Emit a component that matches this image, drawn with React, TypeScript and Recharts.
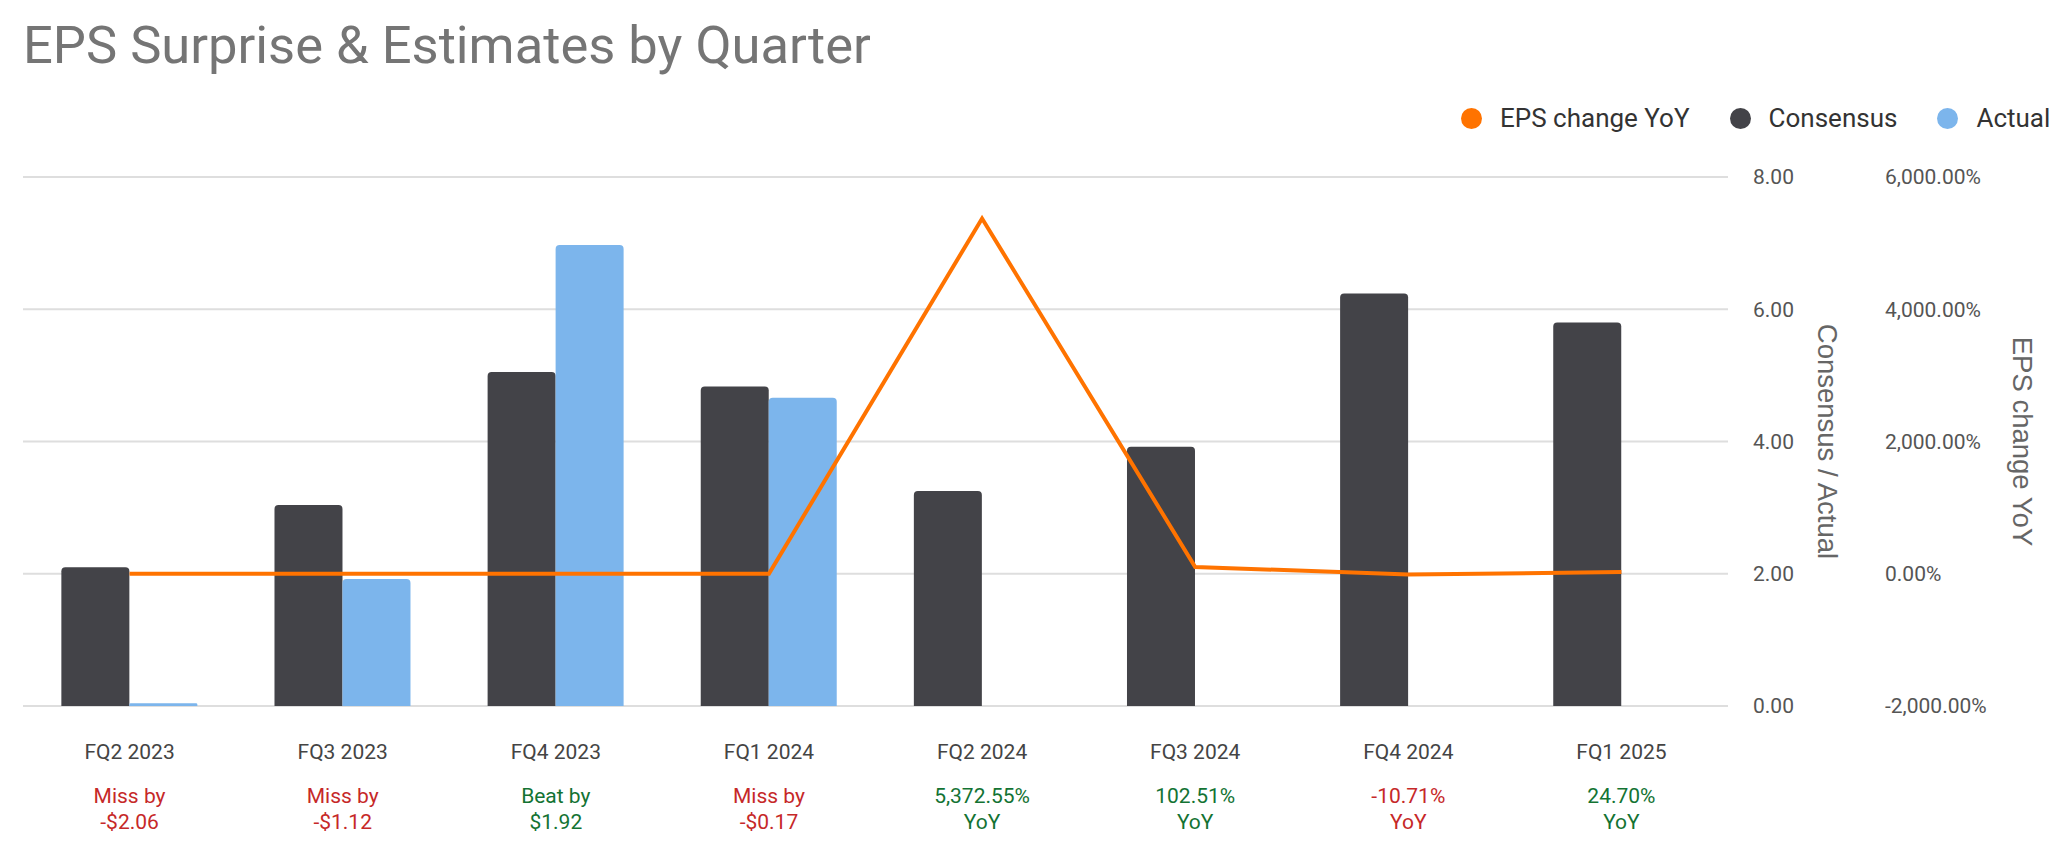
import React from "react"
import { ComposedChart, Bar, Line, XAxis, YAxis, CartesianGrid } from "recharts"

const quarters = ["FQ2 2023", "FQ3 2023", "FQ4 2023", "FQ1 2024", "FQ2 2024", "FQ3 2024", "FQ4 2024", "FQ1 2025"]
const consensus = [2.1, 3.04, 5.05, 4.83, 3.25, 3.92, 6.24, 5.8]
const actual = [0.04, 1.92, 6.97, 4.66, null, null, null, null]
const epsChangeYoY = [0, 0, 0, 0, 5372.55, 102.51, -10.71, 24.7]
const surpriseTop = ["Miss by", "Miss by", "Beat by", "Miss by", "5,372.55%", "102.51%", "-10.71%", "24.70%"]
const surpriseBottom = ["-$2.06", "-$1.12", "$1.92", "-$0.17", "YoY", "YoY", "YoY", "YoY"]
const surpriseGood = [false, false, true, false, true, true, false, true]

const epsTicks = [0, 2, 4, 6, 8]
const yoyTicks = [-2000, 0, 2000, 4000, 6000]

const data = quarters.map((q, i) => ({
  quarter: q,
  consensus: consensus[i],
  actual: actual[i],
  yoy: epsChangeYoY[i],
}))

const ORANGE = "#ff7300"
const DARK = "#434348"
const BLUE = "#7cb5ec"
const RED = "#c62828"
const GREEN = "#137333"
const ROBOTO = "Roboto, sans-serif"

const legendItems = [
  { name: "EPS change YoY", color: ORANGE },
  { name: "Consensus", color: DARK },
  { name: "Actual", color: BLUE },
]

function QuarterTick(props: any) {
  const { x, y, payload, index } = props
  const color = surpriseGood[index] ? GREEN : RED
  return (
    <g fontFamily={ROBOTO} fontSize={21} textAnchor="middle">
      <text x={x} y={y + 52.7} fill="#444">{payload.value}</text>
      <text x={x} y={y + 97.2} fill={color}>{surpriseTop[index]}</text>
      <text x={x} y={y + 123.2} fill={color}>{surpriseBottom[index]}</text>
    </g>
  )
}

function axisTitle(text: string, dx: number) {
  return (props: any) => {
    const vb = props.viewBox
    const cx = vb.x + dx
    const cy = vb.y + vb.height / 2
    return (
      <text
        x={cx}
        y={cy}
        transform={`rotate(90 ${cx} ${cy})`}
        textAnchor="middle"
        dominantBaseline="central"
        fontFamily="'Liberation Sans', Arial, sans-serif"
        fontSize={27.5}
        fill="#666"
      >
        {text}
      </text>
    )
  }
}

const fmtEps = (v: number) => v.toFixed(2)
const fmtPct = (v: number) =>
  v.toLocaleString("en-US", { minimumFractionDigits: 2, maximumFractionDigits: 2 }) + "%"

export default function App() {
  return (
    <div style={{ position: "relative", width: 2051, height: 847, fontFamily: ROBOTO }}>
      <div
        style={{
          position: "absolute",
          left: 15,
          top: 11,
          fontSize: 52.5,
          lineHeight: "52px",
          color: "#757575",
          whiteSpace: "nowrap",
        }}
      >
        EPS Surprise &amp; Estimates by Quarter
      </div>
      <div
        style={{
          position: "absolute",
          left: 1453,
          top: 97,
          width: "max-content",
          display: "flex",
          alignItems: "center",
          fontSize: 26,
          lineHeight: "26px",
          color: "#333",
          whiteSpace: "nowrap",
        }}
      >
        {legendItems.map((item, i) => (
          <div
            key={item.name}
            style={{ display: "flex", alignItems: "center", flexShrink: 0, marginRight: i < 2 ? 40 : 0 }}
          >
            <span
              style={{
                width: 21,
                height: 21,
                borderRadius: "50%",
                background: item.color,
                display: "inline-block",
                flexShrink: 0,
                marginRight: 18,
              }}
            />
            <span>{item.name}</span>
          </div>
        ))}
      </div>
      <ComposedChart
        width={2051}
        height={847}
        data={data}
        margin={{ top: 169, right: 0, left: 15, bottom: 0 }}
        barCategoryGap="18%"
        barGap={0}
      >
        <CartesianGrid yAxisId="eps" vertical={false} stroke="#dedede" strokeWidth={2} />
        <XAxis
          dataKey="quarter"
          height={149}
          axisLine={false}
          tickLine={false}
          tickSize={0}
          tickMargin={0}
          interval={0}
          tick={<QuarterTick />}
        />
        <YAxis
          yAxisId="eps"
          orientation="right"
          width={140}
          domain={[0, 8]}
          ticks={epsTicks}
          tickFormatter={fmtEps}
          axisLine={false}
          tickLine={false}
          tickSize={0}
          tickMargin={25}
          tick={{ fontSize: 21, fill: "#555", fontFamily: ROBOTO, textAnchor: "start" }}
          label={{ content: axisTitle("Consensus / Actual", 99.5) }}
        />
        <YAxis
          yAxisId="yoy"
          orientation="right"
          width={191}
          domain={[-2000, 6000]}
          ticks={yoyTicks}
          tickFormatter={fmtPct}
          axisLine={false}
          tickLine={false}
          tickSize={0}
          tickMargin={17}
          tick={{ fontSize: 21, fill: "#555", fontFamily: ROBOTO, textAnchor: "start" }}
          label={{ content: axisTitle("EPS change YoY", 154) }}
        />
        <Bar yAxisId="eps" dataKey="consensus" fill={DARK} radius={[4, 4, 0, 0]} isAnimationActive={false} />
        <Bar yAxisId="eps" dataKey="actual" fill={BLUE} radius={[4, 4, 0, 0]} isAnimationActive={false} />
        <Line
          yAxisId="yoy"
          type="linear"
          dataKey="yoy"
          stroke={ORANGE}
          strokeWidth={4}
          dot={false}
          activeDot={false}
          isAnimationActive={false}
        />
      </ComposedChart>
    </div>
  )
}
